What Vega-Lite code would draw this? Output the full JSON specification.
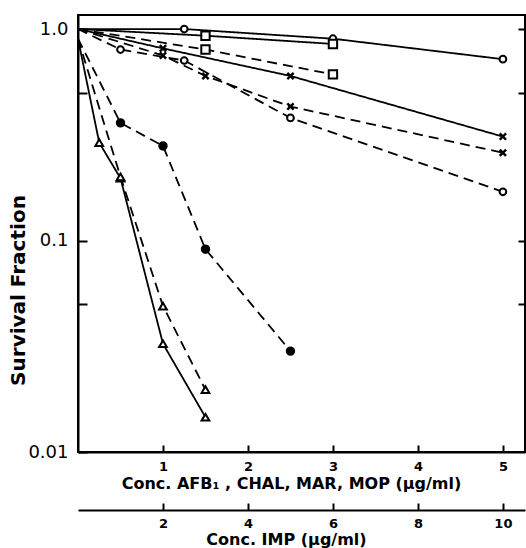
{
  "$schema": "https://vega.github.io/schema/vega-lite/v6.json",
  "width": 447,
  "height": 437,
  "autosize": "none",
  "padding": {"left": 78, "top": 15, "right": 1, "bottom": 96},
  "background": "white",
  "config": {
    "view": {"stroke": "black", "strokeWidth": 2},
    "font": "DejaVu Sans",
    "axis": {"grid": false, "domainColor": "black", "domainWidth": 2, "tickColor": "black", "tickWidth": 2, "labelColor": "black", "titleColor": "black"}
  },
  "datasets": {
    "afb": [
      {"series": "S1", "line": "a", "conc": 0, "sf": 1.0},
      {"series": "S1", "line": "a", "conc": 1.25, "sf": 1.0},
      {"series": "S1", "line": "a", "conc": 3, "sf": 0.9},
      {"series": "S1", "line": "a", "conc": 5, "sf": 0.72},
      {"series": "S2", "line": "b", "conc": 0, "sf": 1.0},
      {"series": "S2", "line": "b", "conc": 0.5, "sf": 0.8},
      {"series": "S2", "line": "b", "conc": 1.25, "sf": 0.71},
      {"series": "S2", "line": "b", "conc": 2.5, "sf": 0.38},
      {"series": "S2", "line": "b", "conc": 5, "sf": 0.17},
      {"series": "S3", "line": "a", "conc": 0, "sf": 1.0},
      {"series": "S3", "line": "a", "conc": 1, "sf": 0.81},
      {"series": "S3", "line": "a", "conc": 2.5, "sf": 0.6},
      {"series": "S3", "line": "a", "conc": 5, "sf": 0.31},
      {"series": "S4", "line": "b", "conc": 0, "sf": 1.0},
      {"series": "S4", "line": "b", "conc": 1, "sf": 0.75},
      {"series": "S4", "line": "b", "conc": 1.5, "sf": 0.6},
      {"series": "S4", "line": "b", "conc": 2.5, "sf": 0.43},
      {"series": "S4", "line": "b", "conc": 5, "sf": 0.26},
      {"series": "S5", "line": "a", "conc": 0, "sf": 1.0},
      {"series": "S5", "line": "a", "conc": 1.5, "sf": 0.93},
      {"series": "S5", "line": "a", "conc": 3, "sf": 0.85},
      {"series": "S6", "line": "b", "conc": 0, "sf": 1.0},
      {"series": "S6", "line": "b", "conc": 1.5, "sf": 0.8},
      {"series": "S6", "line": "b", "conc": 3, "sf": 0.61},
      {"series": "S7", "line": "b", "conc": 0, "sf": 0.9},
      {"series": "S7", "line": "b", "conc": 0.5, "sf": 0.36},
      {"series": "S7", "line": "b", "conc": 1, "sf": 0.28},
      {"series": "S7", "line": "b", "conc": 1.5, "sf": 0.091},
      {"series": "S7", "line": "b", "conc": 2.5, "sf": 0.03}
    ],
    "imp": [
      {"series": "S8", "line": "a", "conc": 0, "sf": 0.9},
      {"series": "S8", "line": "a", "conc": 0.5, "sf": 0.29},
      {"series": "S8", "line": "a", "conc": 1, "sf": 0.197},
      {"series": "S8", "line": "a", "conc": 2, "sf": 0.0325},
      {"series": "S8", "line": "a", "conc": 3, "sf": 0.0146},
      {"series": "S9", "line": "b", "conc": 0, "sf": 0.9},
      {"series": "S9", "line": "b", "conc": 1, "sf": 0.2},
      {"series": "S9", "line": "b", "conc": 2, "sf": 0.049},
      {"series": "S9", "line": "b", "conc": 3, "sf": 0.0197}
    ]
  },
  "resolve": {"scale": {"x": "independent"}, "axis": {"x": "independent", "y": "independent"}},
  "layer": [
    {
      "data": {"name": "afb"},
      "encoding": {
        "x": {"field": "conc", "type": "quantitative", "scale": {"domain": [0, 5.26], "nice": false, "zero": false},
          "axis": {"orient": "bottom", "values": [1, 2, 3, 4, 5], "tickSize": -7, "labelPadding": 15, "labelFont": "DejaVu Sans", "labelFontSize": 13, "labelFontWeight": "bold", "labelBaseline": "top",
            "title": "Conc. AFB₁ , CHAL, MAR, MOP (μg/ml)", "titleFont": "DejaVu Sans", "titleFontSize": 16, "titleFontWeight": "bold", "titleBaseline": "top", "titleY": 23, "titleX": 213}},
        "y": {"field": "sf", "type": "quantitative", "scale": {"type": "log", "domain": [0.01, 1.165], "nice": false},
          "axis": {"orient": "left", "values": [0.01, 0.05, 0.1, 0.5, 1], "tickSize": -9, "labelPadding": 19,
            "labelExpr": "datum.value == 1 ? '1.0' : datum.value == 0.1 ? '0.1' : datum.value == 0.01 ? '0.01' : ''",
            "labelFont": "DejaVu Sans", "labelFontSize": 18, "labelBaseline": "middle",
            "title": "Survival Fraction", "titleFont": "DejaVu Sans", "titleFontSize": 20, "titleFontWeight": "bold", "titleX": -50, "titleY": 275}}
      },
      "layer": [
        {"mark": {"type": "line", "color": "black", "strokeWidth": 1.8},
         "encoding": {"detail": {"field": "series"},
           "strokeDash": {"field": "line", "type": "nominal", "scale": {"domain": ["a", "b"], "range": [[1, 0], [10, 6]]}, "legend": null}}},
        {"transform": [{"filter": "datum.conc > 0 && (datum.series == 'S1' || datum.series == 'S2')"}],
         "mark": {"type": "point", "shape": "circle", "filled": true, "fill": "white", "stroke": "black", "strokeWidth": 2, "size": 45, "opacity": 1}},
        {"transform": [{"filter": "datum.conc > 0 && (datum.series == 'S3' || datum.series == 'S4')"}],
         "mark": {"type": "point", "shape": "M-1,-1L1,1M1,-1L-1,1", "filled": false, "stroke": "black", "strokeWidth": 2.4, "size": 40, "opacity": 1}},
        {"transform": [{"filter": "datum.conc > 0 && (datum.series == 'S5' || datum.series == 'S6')"}],
         "mark": {"type": "point", "shape": "square", "filled": true, "fill": "white", "stroke": "black", "strokeWidth": 2, "size": 70, "opacity": 1}},
        {"transform": [{"filter": "datum.conc > 0 && datum.series == 'S7'"}],
         "mark": {"type": "point", "shape": "circle", "filled": true, "fill": "black", "stroke": "black", "size": 55, "opacity": 1}}
      ]
    },
    {
      "data": {"name": "imp"},
      "encoding": {
        "x": {"field": "conc", "type": "quantitative", "scale": {"domain": [0, 10.52], "nice": false, "zero": false},
          "axis": {"orient": "bottom", "offset": 58, "values": [2, 4, 6, 8, 10], "tickSize": -7, "labelPadding": 14, "labelFont": "DejaVu Sans", "labelFontSize": 13, "labelFontWeight": "bold", "labelBaseline": "top",
            "title": "Conc. IMP (μg/ml)", "titleFont": "DejaVu Sans", "titleFontSize": 16, "titleFontWeight": "bold", "titleBaseline": "top", "titleY": 21, "titleX": 208}},
        "y": {"field": "sf", "type": "quantitative", "scale": {"type": "log", "domain": [0.01, 1.165], "nice": false},
          "axis": {"orient": "right", "values": [0.05, 0.1, 0.5, 1], "tickSize": -7, "labels": false, "title": null}}
      },
      "layer": [
        {"mark": {"type": "line", "color": "black", "strokeWidth": 1.8},
         "encoding": {"detail": {"field": "series"},
           "strokeDash": {"field": "line", "type": "nominal", "scale": {"domain": ["a", "b"], "range": [[1, 0], [10, 6]]}, "legend": null}}},
        {"transform": [{"filter": "datum.conc > 0"}],
         "mark": {"type": "point", "shape": "triangle-up", "filled": true, "fill": "white", "stroke": "black", "strokeWidth": 2, "size": 60, "opacity": 1}}
      ]
    }
  ]
}
